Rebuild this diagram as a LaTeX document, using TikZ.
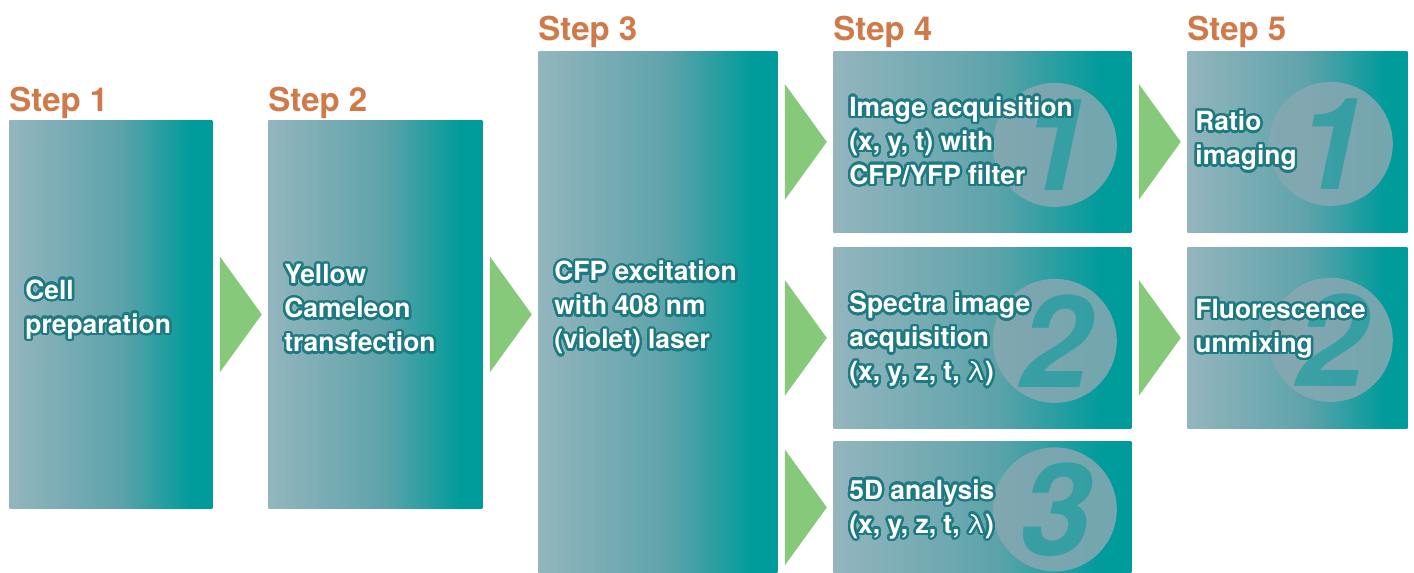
\documentclass[tikz,border=0pt]{standalone}
\usepackage{fontspec}
\setmainfont{TeX Gyre Heros}
\usepackage{contour}
\contourlength{1.2pt}
\contournumber{32}
\usetikzlibrary{calc}

\definecolor{boxl}{RGB}{148,181,190}
\definecolor{boxm}{RGB}{94,163,170}
\definecolor{boxr}{RGB}{0,155,155}
\definecolor{outl}{RGB}{30,122,130}
\definecolor{stepc}{RGB}{208,122,74}
\definecolor{arrowc}{RGB}{135,201,123}
\definecolor{circc}{RGB}{136,168,178}

% grey-blue to teal, flat teal over the last part of each box
\pgfdeclarehorizontalshading{boxgrad}{100bp}{color(0bp)=(boxl); color(25bp)=(boxl); color(52bp)=(boxm); color(70bp)=(boxr); color(100bp)=(boxr)}

\newcommand\ow[1]{\contour{outl}{#1}}
\newcommand\lam{{\mdseries λ}}

\tikzset{
  stepbox/.style={rectangle, shading=boxgrad, draw=none, inner sep=0pt, anchor=north west},
  steplabel/.style={anchor=base west, inner sep=0pt, text=stepc, font=\fontsize{16.5}{18}\selectfont\bfseries},
  boxtext/.style={anchor=west, inner sep=0pt, align=left, text=white, font=\fontsize{13.2}{17}\selectfont\bfseries},
  numcirc/.style={circle, minimum size=62pt, inner sep=0pt, fill=circc, fill opacity=0.85,
    text=boxr, text opacity=0.55, font=\fontsize{64}{64}\selectfont\bfseries\itshape},
  chevron/.style={fill=arrowc},
}
% triangular arrow pointing right; #1 is the point at the left box edge, level with its tip
\newcommand\chev[1]{\fill[chevron] ($#1+(7,-58)$) -- ++(42,58) -- ++(-42,58) -- cycle;}

\begin{document}
\begin{tikzpicture}[x=0.5pt,y=-0.5pt]
\useasboundingbox (0,0) rectangle (1414,573);

% boxes
\node[stepbox, minimum width=101.5pt, minimum height=194pt] (b1) at (9,120) {};
\node[stepbox, minimum width=107pt, minimum height=194pt] (b2) at (268,120) {};
\node[stepbox, minimum width=119.5pt, minimum height=261pt] (b3) at (538,51) {};
\node[stepbox, minimum width=149pt, minimum height=90.5pt] (b41) at (833,51) {};
\node[stepbox, minimum width=149pt, minimum height=90.5pt] (b42) at (833,247) {};
\node[stepbox, minimum width=149pt, minimum height=66pt] (b43) at (833,441) {};
\node[stepbox, minimum width=110pt, minimum height=90.5pt] (b51) at (1187,51) {};
\node[stepbox, minimum width=110pt, minimum height=90.5pt] (b52) at (1187,247) {};

% step labels
\node[steplabel] (s1) at (9,111) {Step 1};
\node[steplabel] (s2) at (268,111) {Step 2};
\node[steplabel] (s3) at (538,40) {Step 3};
\node[steplabel] (s4) at (833,40) {Step 4};
\node[steplabel] (s5) at (1187,40) {Step 5};

% numbered discs
\node[numcirc] (c41) at ([shift={(-77,3)}]b41.east) {1};
\node[numcirc] (c42) at ([shift={(-77,3)}]b42.east) {2};
\node[numcirc] (c43) at ([shift={(-77,2)}]b43.east) {3};
\node[numcirc] (c51) at ([shift={(-77,2)}]b51.east) {1};
\node[numcirc] (c52) at ([shift={(-77,2)}]b52.east) {2};

% arrows
\chev{(b1.east)}
\chev{(b2.east)}
\chev{(b3.east |- b41.east)}
\chev{(b3.east |- b42.east)}
\chev{(b3.east |- b43.east)}
\chev{(b41.east)}
\chev{(b42.east)}

% texts
\node[boxtext] (t1) at ([shift={(16,-4)}]b1.west) {\ow{Cell}\\\ow{preparation}};
\node[boxtext] (t2) at ([shift={(16,-5)}]b2.west) {\ow{Yellow}\\\ow{Cameleon}\\\ow{transfection}};
\node[boxtext] (t3) at ([shift={(16,258)}]b3.north west) {\ow{CFP excitation}\\\ow{with 408 nm}\\\ow{(violet) laser}};
\node[boxtext] (t41) at ([shift={(16,0)}]b41.west) {\ow{Image acquisition}\\\ow{(x, y, t) with}\\\ow{CFP/YFP filter}};
\node[boxtext] (t42) at ([shift={(16,3)}]b42.west) {\ow{Spectra image}\\\ow{acquisition}\\\ow{(x, y, z, t, \lam)}};
\node[boxtext] (t43) at ([shift={(16,3)}]b43.west) {\ow{5D analysis}\\\ow{(x, y, z, t, \lam)}};
\node[boxtext] (t51) at ([shift={(8,0)}]b51.west) {\ow{Ratio}\\\ow{imaging}};
\node[boxtext] (t52) at ([shift={(8,-8)}]b52.west) {\ow{Fluorescence}\\\ow{unmixing}};
\end{tikzpicture}
\end{document}
